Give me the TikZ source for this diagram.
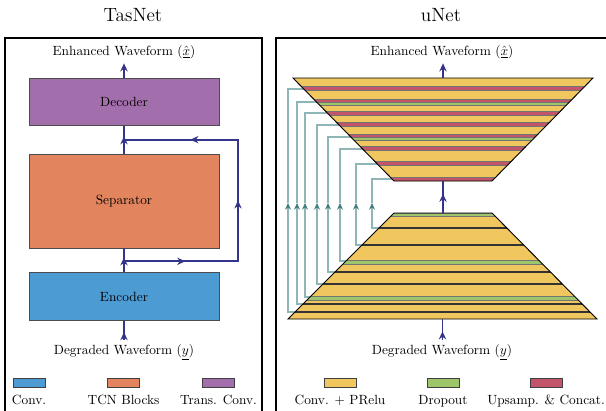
\documentclass[tikz,border=0pt]{standalone}
\usepackage{amsmath}
\usepackage{amssymb}
\usetikzlibrary{arrows.meta,positioning,calc,decorations.markings}
\usepackage{xcolor}

\definecolor{convblue}{RGB}{76,155,211}
\definecolor{tcnorange}{RGB}{226,133,94}
\definecolor{transpurple}{RGB}{163,110,172}
\definecolor{preluyellow}{RGB}{240,198,94}
\definecolor{dropgreen}{RGB}{157,198,107}
\definecolor{upred}{RGB}{194,85,106}
\definecolor{flowblue}{RGB}{52,52,138}
\definecolor{skipteal}{RGB}{142,182,182}
\definecolor{skiptip}{RGB}{66,126,128}

\begin{document}
\begin{tikzpicture}
      [x=0.75pt, y=-0.75pt,
      block style/.style={draw=black!70, rectangle, align=center, minimum width=142.5pt, line width=0.5pt},
      key style/.style={draw=black!75, rectangle, minimum width=24pt, minimum height=6.75pt, inner sep=0pt, line width=0.5pt},
      key label/.style={inner sep=0pt, text height=1.6ex, text depth=0.3ex},
      frame style/.style={draw=black, line width=1pt},
      flow/.style={draw=flowblue, line width=1.3pt},
      flow tip/.style={flow, -{Stealth[length=6pt,width=5.5pt]}},
      flow mid/.style={flow, postaction={decorate}, decoration={markings, mark=at position #1 with {\arrow{Stealth[length=6pt,width=5.5pt]}}}},
      skip style/.style={draw=skipteal, line width=1.1pt},
      trap style/.style={draw=black, line width=0.7pt},
      red band/.style={fill=upred, draw=black!55, line width=0.35pt},
      green band/.style={fill=dropgreen, draw=black!55, line width=0.35pt},
      layer line/.style={draw=black!80, line width=0.8pt},
      ]

      \useasboundingbox (0,0) rectangle (606,410);
      \clip (0,0) rectangle (606,410);

      \node (tastitle) at (133,15) {\Large TasNet};
      \node (unettitle) at (441,15) {\Large uNet};
      \draw[frame style] (5,38) rectangle (262,430);
      \draw[frame style] (276,38) rectangle (630,430);

      \node[block style, fill=tcnorange, minimum height=70.5pt] (separator) at (124,201) {Separator};
      \node[block style, fill=transpurple, minimum height=35.25pt, above=21pt of separator] (decoder) {Decoder};
      \node[block style, fill=convblue, minimum height=36pt, below=18pt of separator] (encoder) {Encoder};
      \node (tasout) at (124,52) {Enhanced Waveform ($\hat{\underline{x}}$)};
      \node (tasin) at (124,352) {Degraded Waveform ($\underline{y}$)};

      \coordinate (split) at ($(encoder.north)!0.46!(separator.south)$);
      \coordinate (merge) at ($(separator.north)!0.5!(decoder.south)$);
      \coordinate (loop side) at (238,200);

      \draw[flow tip] (decoder.north) -- (tasout.south);
      \draw[flow mid=0.4] (tasin.north) -- (encoder.south);
      \draw[flow mid=0.62] (encoder.north) -- (separator.south);
      \draw[flow mid=0.62] (separator.north) -- (decoder.south);
      \draw[flow, postaction={decorate}, decoration={markings,
          mark=at position 0.175 with {\arrow{Stealth[length=6pt,width=5.5pt]}},
          mark=at position 0.5 with {\arrow{Stealth[length=6pt,width=5.5pt]}},
          mark=at position 0.81 with {\arrow{Stealth[length=6pt,width=5.5pt]}}}]
        (split) -- (split -| loop side) -- (merge -| loop side) -- (merge);

      \node[key style, fill=convblue] (key conv) at (29,382.5) {};
      \node[key style, fill=tcnorange] (key tcn) at (123.5,382.5) {};
      \node[key style, fill=transpurple] (key trans) at (218.5,382.5) {};
      \node[key label, below=6pt of key conv] (lab conv) {Conv.};
      \node[key label, below=6pt of key tcn] (lab tcn) {TCN Blocks};
      \node[key label, below=6pt of key trans] (lab trans) {Trans. Conv.};

      \node (unetout) at (442,52) {Enhanced Waveform ($\hat{\underline{x}}$)};
      \node (unetin) at (442,352) {Degraded Waveform ($\underline{y}$)};

      \coordinate (ud tl) at (293,78);
      \coordinate (ud tr) at (593,78);
      \coordinate (ud br) at (492,181);
      \coordinate (ud bl) at (394,181);
      \coordinate (ue tl) at (394,213);
      \coordinate (ue tr) at (492,213);
      \coordinate (ue br) at (597,319);
      \coordinate (ue bl) at (288,319);
      \coordinate (ud top) at ($(ud tl)!0.5!(ud tr)$);
      \coordinate (ud bottom) at ($(ud bl)!0.5!(ud br)$);
      \coordinate (ue top) at ($(ue tl)!0.5!(ue tr)$);
      \coordinate (ue bottom) at ($(ue bl)!0.5!(ue br)$);

      \foreach \i/\xs/\ye/\yd in {1/288/312/89, 2/297/304/102, 3/305/297/113, 4/317/284/125,
                                  5/328/272/137, 6/340/261/149, 7/356/245/164, 8/372/228/179} {
        \coordinate (skip src\i) at ($(ue tl)!{(\ye-213)/106}!(ue bl)$);
        \coordinate (skip dst\i) at ($(ud tl)!{(\yd-78)/103}!(ud bl)$);
        \coordinate (skip col\i) at (\xs,203);
        \draw[skip style, -{Stealth[length=5pt,width=4.5pt,color=skiptip]}] (skip src\i) -| (skip col\i);
        \draw[skip style] (skip col\i) |- (skip dst\i);
      }

      \begin{scope}
        \clip (ud tl) -- (ud tr) -- (ud br) -- (ud bl) -- cycle;
        \fill[preluyellow] (280,70) rectangle (610,190);
        \foreach \ya/\yb in {86.5/90, 99.5/102.5, 111.5/115, 122.5/126, 134.5/137.5, 146.5/150, 161.5/165, 177.5/181}
          \filldraw[red band] (280,\ya) rectangle (610,\yb);
        \foreach \ya/\yb in {102.5/105.5, 137.5/140.5}
          \filldraw[green band] (280,\ya) rectangle (610,\yb);
      \end{scope}
      \draw[trap style] (ud tl) -- (ud tr) -- (ud br) -- (ud bl) -- cycle;

      \begin{scope}
        \clip (ue tl) -- (ue tr) -- (ue br) -- (ue bl) -- cycle;
        \fill[preluyellow] (280,205) rectangle (610,325);
        \foreach \ya/\yb in {213/216.5, 260.5/264, 296.5/300}
          \filldraw[green band] (280,\ya) rectangle (610,\yb);
        \foreach \y in {228, 245, 272, 284, 304, 312}
          \draw[layer line] (280,\y) -- (610,\y);
      \end{scope}
      \draw[trap style] (ue tl) -- (ue tr) -- (ue br) -- (ue bl) -- cycle;

      \draw[flow tip] (ud top) -- (ud top |- unetout.south);
      \draw[flow mid=0.6] (ue top) -- (ud bottom);
      \draw[flow mid=0.4] (ue bottom |- unetin.north) -- (ue bottom);

      \node[key style, fill=preluyellow] (key prelu) at (340,382.5) {};
      \node[key style, fill=dropgreen] (key drop) at (443,382.5) {};
      \node[key style, fill=upred] (key up) at (546,382.5) {};
      \node[key label, below=6pt of key prelu] (lab prelu) {Conv. + PRelu};
      \node[key label, below=6pt of key drop] (lab drop) {Dropout};
      \node[key label, below=6pt of key up] (lab up) {Upsamp. \& Concat.};
    \end{tikzpicture}
\end{document}
